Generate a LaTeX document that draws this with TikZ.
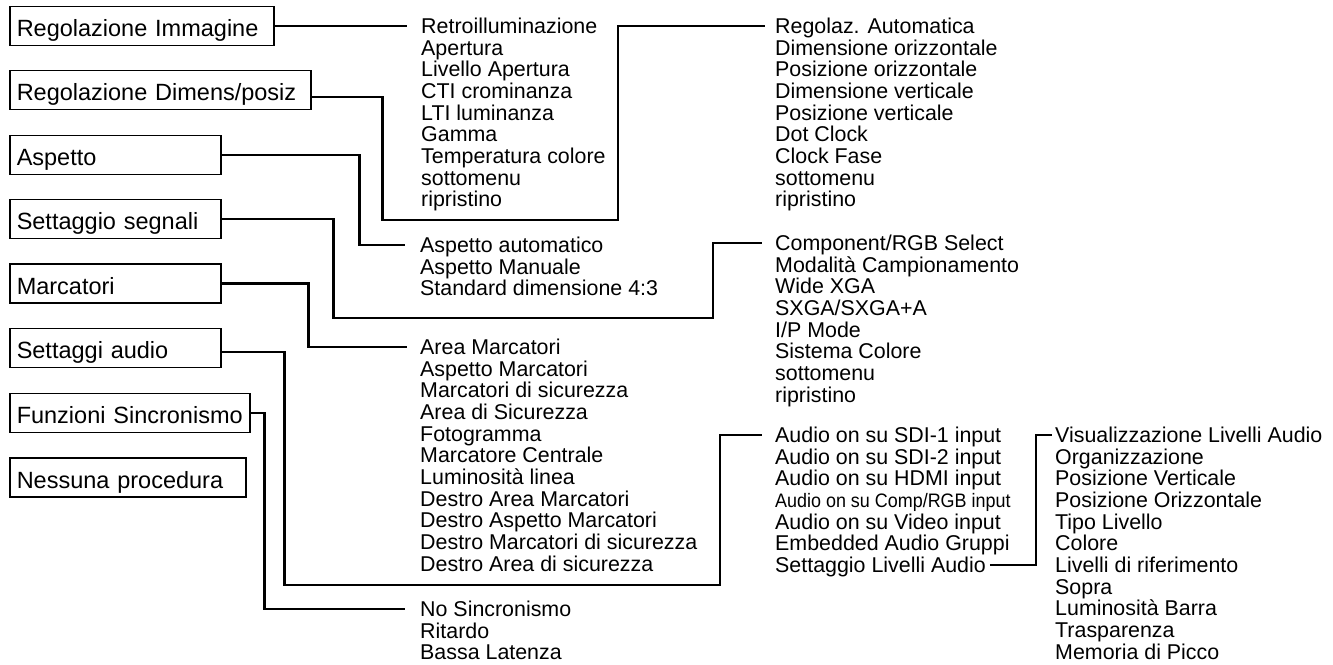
\documentclass[tikz,border=0pt]{standalone}
\usepackage{fontspec}
\setmainfont{Liberation Sans}
\usepackage{graphicx}
\newcommand\cmpRGB[1]{\scalebox{0.92}[1]{\fontsize{19.5}{21}\selectfont #1}}
\newcommand\menulist[4]{%
  \foreach \itm [count=\i] in {#4}
    \node[item] (#1\i) at (#2,{#3+21.67*(\i-1)}) {\itm};}
\tikzset{
  menubox/.style={draw, line width=1.5pt, anchor=west, inner xsep=7pt, inner ysep=0pt,
    minimum height=39pt, text width=#1, align=left, text height=21pt, text depth=0pt,
    font=\fontsize{23.5}{25}\selectfont},
  item/.style={anchor=west, inner sep=0pt, text height=15pt, text depth=0pt,
    font=\fontsize{21.4}{21.7}\selectfont},
  conn/.style={line width=2.2pt},
}
\begin{document}
\begin{tikzpicture}[x=1pt,y=-1pt]
\useasboundingbox (0,0) rectangle (1333,664);
% main menu boxes
\node[menubox=250pt] (b1) at (9,26)    {Regolazione Immagine};
\node[menubox=287pt] (b2) at (9,90)    {Regolazione Dimens/posiz};
\node[menubox=197pt] (b3) at (9,155)   {Aspetto};
\node[menubox=197pt] (b4) at (9,219)   {Settaggio segnali};
\node[menubox=197pt] (b5) at (9,283.5) {Marcatori};
\node[menubox=197pt] (b6) at (9,348)   {Settaggi audio};
\node[menubox=226pt] (b7) at (9,413)   {Funzioni Sincronismo};
\node[menubox=222pt] (b8) at (9,477.5) {Nessuna procedura};
% sub-menu lists
\menulist{A}{421}{26}{Retroilluminazione, Apertura, Livello Apertura, CTI crominanza, LTI luminanza, Gamma, Temperatura colore, sottomenu, ripristino}
\menulist{B}{775}{26}{Regolaz. Automatica, Dimensione orizzontale, Posizione orizzontale, Dimensione verticale, Posizione verticale, Dot Clock, Clock Fase, sottomenu, ripristino}
\menulist{C}{420}{245}{Aspetto automatico, Aspetto Manuale, Standard dimensione 4:3}
\menulist{D}{775}{243}{Component/RGB Select, Modalità Campionamento, Wide XGA, SXGA/SXGA+A, I/P Mode, Sistema Colore, sottomenu, ripristino}
\menulist{E}{420}{347}{Area Marcatori, Aspetto Marcatori, Marcatori di sicurezza, Area di Sicurezza, Fotogramma, Marcatore Centrale, Luminosità linea, Destro Area Marcatori, Destro Aspetto Marcatori, Destro Marcatori di sicurezza, Destro Area di sicurezza}
\menulist{F}{775}{435}{Audio on su SDI-1 input, Audio on su SDI-2 input, Audio on su HDMI input, \cmpRGB{Audio on su Comp/RGB input}, Audio on su Video input, Embedded Audio Gruppi, Settaggio Livelli Audio}
\menulist{G}{420}{609}{No Sincronismo, Ritardo, Bassa Latenza}
\menulist{H}{1055}{435}{Visualizzazione Livelli Audio, Organizzazione, Posizione Verticale, Posizione Orizzontale, Tipo Livello, Colore, Livelli di riferimento, Sopra, Luminosità Barra, Trasparenza, Memoria di Picco}
% connectors
\draw[conn] (b1.east) -- ([xshift=-14pt]A1.west);
\draw[conn] ([yshift=-7pt]b2.east) -- ++(71,0) |- (618,220) |- ([xshift=-10pt]B1.west);
\draw[conn] (b3.east) -- ++(138,0) |- ([xshift=-15pt]C1.west);
\draw[conn] (b4.east) -- ++(112,0) |- (713,318) |- ([xshift=-13pt]D1.west);
\draw[conn] (b5.east) -- ++(87,0) |- ([xshift=-13pt]E1.west);
\draw[conn] ([yshift=-4pt]b6.east) -- ++(63,0) |- (720,585) |- ([xshift=-13pt]F1.west);
\draw[conn] (b7.east) -- ++(14,0) |- ([xshift=-15pt]G1.west);
\draw[conn] ([xshift=4pt]F7.east) -- ++(46,0) |- ([xshift=-3pt]H1.west);
\end{tikzpicture}
\end{document}
